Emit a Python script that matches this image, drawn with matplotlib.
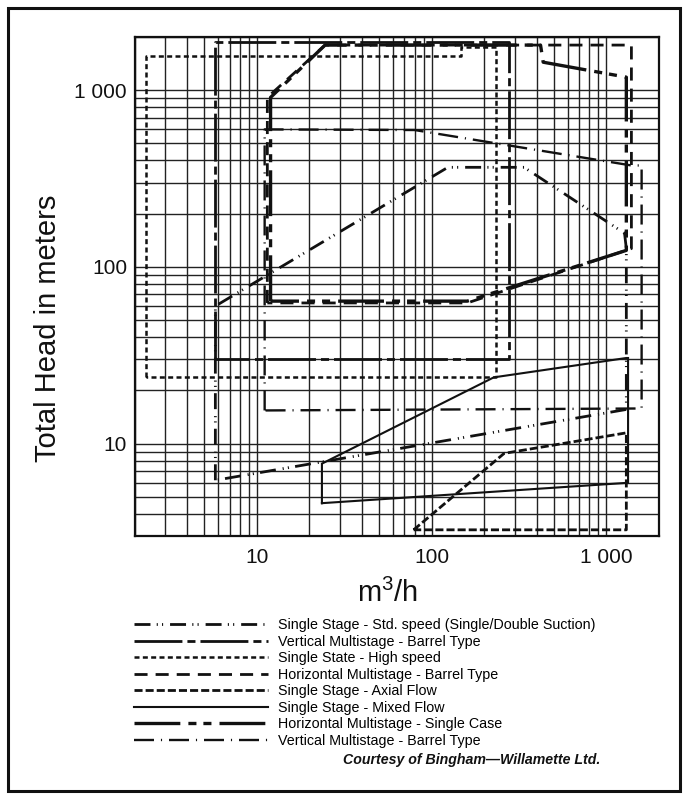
import matplotlib.pyplot as plt
from matplotlib.patches import Rectangle
from matplotlib.ticker import FixedLocator, LogLocator, FuncFormatter, NullFormatter

plt.rcParams['font.family'] = ['Liberation Sans', 'DejaVu Sans']
plt.rcParams['mathtext.fontset'] = 'custom'
plt.rcParams['mathtext.rm'] = 'Liberation Sans'
plt.rcParams['lines.scale_dashes'] = False

# envelope outlines, flow in m3/h and head in m
std_q = [5.8, 5.8, 124, 338, 1270, 1300, 1300, 5.8]
std_h = [6.2, 60, 366, 366, 155, 127, 15.6, 6.2]

vbarrel_q = [5.75, 5.75, 277, 277, 5.75]
vbarrel_h = [30, 1870, 1870, 30, 30]

high_q = [2.33, 2.33, 147, 147, 233, 233, 2.33]
high_h = [23.7, 1560, 1560, 1755, 1755, 23.7, 23.7]

hbarrel_q = [11.5, 11.5, 24.6, 1390, 1390, 160, 11.5]
hbarrel_h = [62.5, 910, 1800, 1800, 127, 62.5, 62.5]

axial_q = [79, 260, 1300, 1300, 79]
axial_h = [3.25, 8.8, 11.5, 3.25, 3.25]

mixed_q = [23.6, 23.6, 227, 1300, 1330, 1330, 23.6]
mixed_h = [4.6, 7.7, 23.7, 30.5, 30.5, 6.0, 4.6]

single_q = [12, 12, 24.6, 420, 435, 1300, 1300, 160, 12]
single_h = [64, 910, 1800, 1800, 1440, 1185, 124, 64, 64]

vbarrel2_q = [11.1, 11.1, 80, 1390, 1590, 1590, 11.1]
vbarrel2_h = [15.4, 600, 595, 375, 375, 15.8, 15.4]

labels = ['Single Stage - Std. speed (Single/Double Suction)',
          'Vertical Multistage - Barrel Type',
          'Single State - High speed',
          'Horizontal Multistage - Barrel Type',
          'Single Stage - Axial Flow',
          'Single Stage - Mixed Flow',
          'Horizontal Multistage - Single Case',
          'Vertical Multistage - Barrel Type']

series = [(std_q, std_h), (vbarrel_q, vbarrel_h), (high_q, high_h),
          (hbarrel_q, hbarrel_h), (axial_q, axial_h), (mixed_q, mixed_h),
          (single_q, single_h), (vbarrel2_q, vbarrel2_h)]

styles = [dict(lw=2.0, dashes=(11.5, 4.5, 0.8, 3, 0.8, 5)),
          dict(lw=2.0, dashes=(34.5, 3.6, 5.8, 3.6)),
          dict(lw=1.8, dashes=(3.6, 2.4)),
          dict(lw=2.0, dashes=(9.4, 5.8)),
          dict(lw=2.0, dashes=(5.8, 2.2)),
          dict(lw=1.5),
          dict(lw=2.4, dashes=(33, 5.8, 5.8, 5, 5.8, 5.8)),
          dict(lw=1.7, dashes=(14.4, 5, 0.8, 5))]

fig = plt.figure(figsize=(6.87, 7.99), dpi=100)
ax = fig.add_axes([0.1958, 0.3292, 0.7635, 0.6245])
ax.set_xscale('log')
ax.set_yscale('log')
ax.set_xlim(2, 2000)
ax.set_ylim(3, 2000)

fmt = FuncFormatter(lambda v, p: f'{v:,.0f}'.replace(',', ' '))
for axis in (ax.xaxis, ax.yaxis):
    axis.set_major_locator(FixedLocator([10, 100, 1000]))
    axis.set_minor_locator(LogLocator(base=10, subs=range(2, 10)))
    axis.set_major_formatter(fmt)
    axis.set_minor_formatter(NullFormatter())
ax.grid(which='both', color='#222222', lw=1.0)
ax.tick_params(which='both', length=0, labelsize=15, colors='#111111')
ax.tick_params(axis='x', pad=8.5)
ax.tick_params(axis='y', pad=5.4)
for s in ax.spines.values():
    s.set_linewidth(1.6)
    s.set_color('#111111')

lines = []
for (q, h), lab, st in zip(series, labels, styles):
    ln, = ax.plot(q, h, color='#111111', label=lab, solid_joinstyle='miter', **st)
    lines.append(ln)

fig.text(48 / 687, 1 - 328 / 799, 'Total Head in meters', rotation=90,
         ha='center', va='center', fontsize=21, color='#111111')
fig.text(388 / 687, 1 - 593 / 799, 'm$^3$/h', ha='center', va='center',
         fontsize=21, color='#111111')

fig.legend(lines, labels, loc='upper left', bbox_to_anchor=(134 / 687, 1 - 618 / 799),
           frameon=False, fontsize=10.3, handlelength=9.4, handletextpad=0.7,
           labelspacing=0.18, borderpad=0, borderaxespad=0)

fig.text(600 / 687, 1 - 760 / 799, 'Courtesy of Bingham\u2014Willamette Ltd.',
         ha='right', va='center', fontsize=10.2, fontweight='bold',
         fontstyle='italic', color='#111111')

fig.patches.append(Rectangle((8 / 687, 8 / 799), 672 / 687, 783 / 799,
                             transform=fig.transFigure, fill=False,
                             lw=2.2, edgecolor='#111111'))

fig.savefig('out.png', dpi=100)
